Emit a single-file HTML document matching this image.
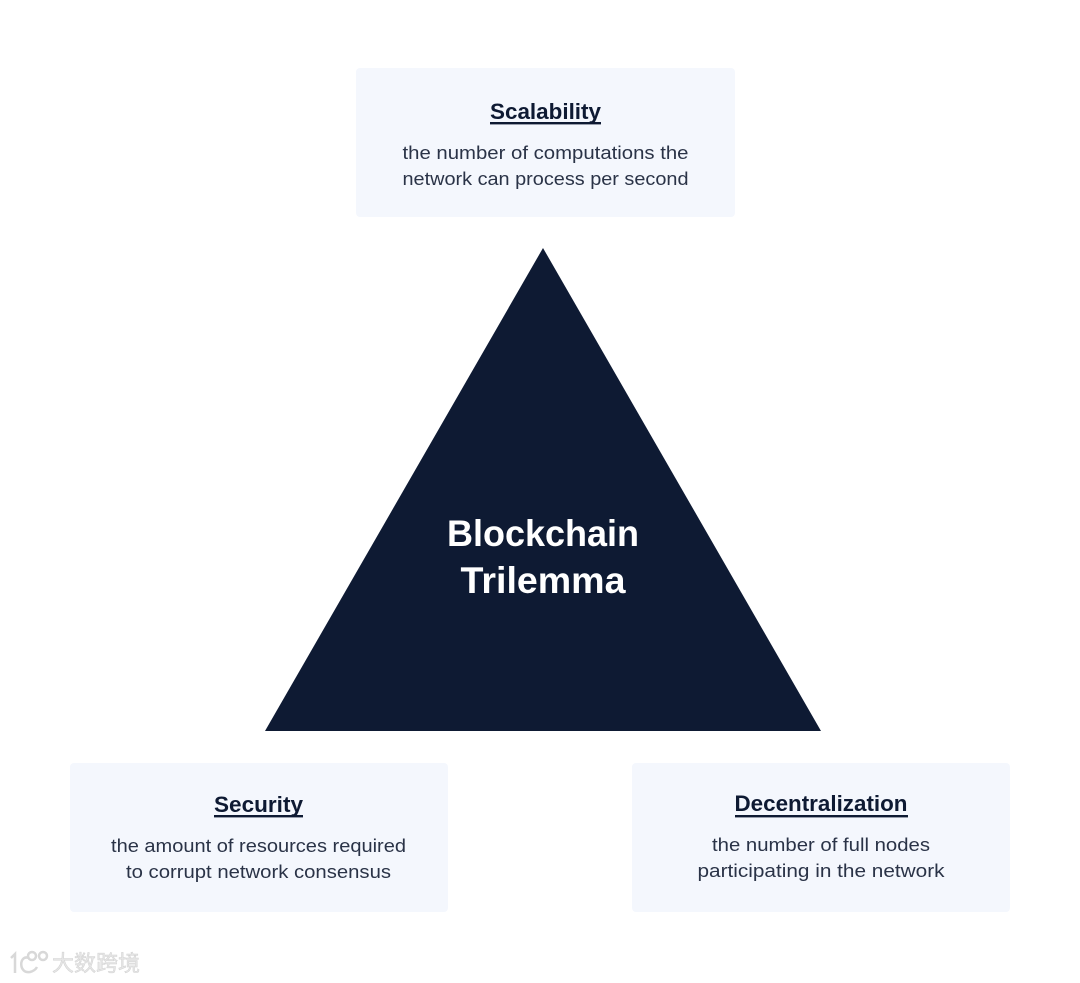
<!DOCTYPE html>
<html><head><meta charset="utf-8"><style>
html,body{margin:0;padding:0;background:#fff}
svg{display:block}
text{font-family:"Liberation Sans",sans-serif;text-anchor:middle}
.t{font-size:22px;font-weight:700;fill:#0e1a33}
.b{font-size:18.5px;fill:#2a3347}
.h{font-size:37px;font-weight:700;fill:#fff}
</style></head><body>
<svg width="1080" height="983" viewBox="0 0 1080 983" xmlns="http://www.w3.org/2000/svg">
<rect width="1080" height="983" fill="#fff"/>
<rect x="356" y="68" width="379" height="149" rx="4" fill="#f4f7fd"/>
<rect x="70" y="763" width="378" height="149" rx="4" fill="#f4f7fd"/>
<rect x="632" y="763" width="378" height="149" rx="4" fill="#f4f7fd"/>
<polygon points="543,248 821,731 265,731" fill="#0e1a33"/>
<text class="h" x="543" y="546" textLength="192" lengthAdjust="spacingAndGlyphs">Blockchain</text>
<text class="h" x="543" y="593" textLength="165" lengthAdjust="spacingAndGlyphs">Trilemma</text>
<text class="t" x="545.5" y="119" textLength="111" lengthAdjust="spacingAndGlyphs">Scalability</text>
<rect x="490" y="122" width="111" height="2.4" fill="#0e1a33"/>
<text class="b" x="545.5" y="159" textLength="286" lengthAdjust="spacingAndGlyphs">the number of computations the</text>
<text class="b" x="545.5" y="185" textLength="286" lengthAdjust="spacingAndGlyphs">network can process per second</text>
<text class="t" x="258.500" y="812" textLength="89" lengthAdjust="spacingAndGlyphs">Security</text>
<rect x="214" y="815" width="89" height="2.4" fill="#0e1a33"/>
<text class="b" x="258.500" y="852" textLength="295" lengthAdjust="spacingAndGlyphs">the amount of resources required</text>
<text class="b" x="258.500" y="878" textLength="265" lengthAdjust="spacingAndGlyphs">to corrupt network consensus</text>
<text class="t" x="821" y="811" textLength="173" lengthAdjust="spacingAndGlyphs">Decentralization</text>
<rect x="735" y="815" width="173" height="2.4" fill="#0e1a33"/>
<text class="b" x="821" y="851" textLength="218" lengthAdjust="spacingAndGlyphs">the number of full nodes</text>
<text class="b" x="821" y="877" textLength="247" lengthAdjust="spacingAndGlyphs">participating in the network</text>
<g fill="none" stroke="#d8d8d8" stroke-width="2.500">
<path d="M11 958 L15 954 V973"/>
<path d="M29 958 C19 954 18 974 30 972 C34 971 36 969 37 967"/>
<circle cx="32" cy="956" r="4"/>
<circle cx="43" cy="956" r="4"/>
</g>
<text x="96" y="971" font-size="22" font-weight="400" style='font-family:"Liberation Sans","Noto Sans CJK SC",sans-serif' fill="#e6e6e6" stroke="#d2d2d2" stroke-width=".5" textLength="88" lengthAdjust="spacingAndGlyphs">大数跨境</text>
</svg>
</body></html>
